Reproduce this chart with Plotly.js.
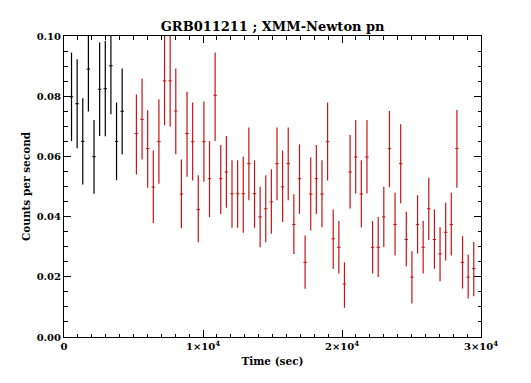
<!DOCTYPE html>
<html>
<head>
<meta charset="utf-8">
<script src="https://cdn.plot.ly/plotly-3.0.1.min.js"></script>
<style>
html,body{margin:0;padding:0;background:#fff;}
#chart{width:531px;height:383px;}
</style>
</head>
<body>
<div id="chart"></div>
<script>
// Black segment (early part of light curve)
var blackTime = [540, 945, 1350, 1755, 2160, 2565, 2970, 3375, 3780, 4185];
var blackRate = [0.0798, 0.0775, 0.0650, 0.0890, 0.0599, 0.0823, 0.0825, 0.0901, 0.0650, 0.0750];
var blackHi   = [0.0945, 0.0923, 0.0793, 0.1040, 0.0721, 0.0978, 0.0984, 0.1060, 0.0779, 0.0892];
var blackLo   = [0.0651, 0.0627, 0.0507, 0.0749, 0.0476, 0.0668, 0.0667, 0.0740, 0.0521, 0.0607];

// Red segment
var redTime = [5210, 5615, 6019, 6424, 6828, 7233, 7637, 8042, 8446, 8851,
               9255, 9660, 10064, 10469, 10873, 11278, 11682, 12087, 12491, 12896,
               13300, 13705, 14109, 14514, 14918, 15323, 15727, 16132, 16536, 16941,
               17345, 17750, 18154, 18559, 18963, 19368, 19772, 20177, 20581, 20986,
               21390, 21795, 22199, 22604, 23008, 23413, 23817, 24222, 24626, 25031,
               25435, 25840, 26244, 26649, 27053, 27458, 27862, 28267, 28671, 29076, 29480];
var redRate = [0.0676, 0.0723, 0.0626, 0.0498, 0.0649, 0.0851, 0.0851, 0.0751, 0.0475, 0.0676,
               0.0649, 0.0424, 0.0649, 0.0526, 0.0803, 0.0526, 0.0548, 0.0476, 0.0476, 0.0476,
               0.0576, 0.0476, 0.0399, 0.0426, 0.0449, 0.0576, 0.0499, 0.0576, 0.0374, 0.0526,
               0.0248, 0.0475, 0.0526, 0.0475, 0.0649, 0.0326, 0.0298, 0.0176, 0.0548, 0.0598,
               0.0475, 0.0598, 0.0298, 0.0298, 0.0399, 0.0626, 0.0374, 0.0576, 0.0324, 0.0199,
               0.0374, 0.0298, 0.0426, 0.0324, 0.0276, 0.0348, 0.0374, 0.0626, 0.0248, 0.0199, 0.0227];
var redHi   = [0.0806, 0.0859, 0.0753, 0.0620, 0.0790, 0.1010, 0.1010, 0.0892, 0.0590, 0.0815,
               0.0779, 0.0537, 0.0782, 0.0651, 0.0945, 0.0638, 0.0668, 0.0587, 0.0587, 0.0599,
               0.0696, 0.0587, 0.0499, 0.0537, 0.0557, 0.0696, 0.0620, 0.0696, 0.0474, 0.0640,
               0.0337, 0.0596, 0.0638, 0.0587, 0.0779, 0.0424, 0.0385, 0.0248, 0.0671, 0.0721,
               0.0587, 0.0721, 0.0385, 0.0399, 0.0499, 0.0751, 0.0479, 0.0707, 0.0416, 0.0285,
               0.0471, 0.0385, 0.0529, 0.0424, 0.0365, 0.0446, 0.0479, 0.0754, 0.0335, 0.0274, 0.0316];
var redLo   = [0.0540, 0.0590, 0.0496, 0.0379, 0.0509, 0.0703, 0.0699, 0.0607, 0.0361, 0.0532,
               0.0520, 0.0315, 0.0516, 0.0398, 0.0651, 0.0409, 0.0429, 0.0363, 0.0363, 0.0346,
               0.0454, 0.0363, 0.0298, 0.0315, 0.0343, 0.0454, 0.0382, 0.0454, 0.0276, 0.0409,
               0.0160, 0.0354, 0.0409, 0.0365, 0.0520, 0.0226, 0.0211, 0.0097, 0.0427, 0.0477,
               0.0365, 0.0477, 0.0211, 0.0199, 0.0298, 0.0498, 0.0271, 0.0444, 0.0235, 0.0111,
               0.0277, 0.0211, 0.0322, 0.0227, 0.0185, 0.0254, 0.0271, 0.0496, 0.0161, 0.0128, 0.0135];

var xTickVals = [0, 10000, 20000, 30000];
var xTickText = ['0', '1\u00d710<sup>4</sup>', '2\u00d710<sup>4</sup>', '3\u00d710<sup>4</sup>'];

function diff(a, b) { return a.map(function (v, i) { return +(v - b[i]).toFixed(5); }); }

function makeTrace(t, r, hi, lo, color) {
  return {
    x: t, y: r, type: 'scatter', mode: 'markers',
    marker: { symbol: 'line-ew', size: 2.5, color: color, line: { color: color, width: 1 } },
    error_y: { type: 'data', symmetric: false, array: diff(hi, r), arrayminus: diff(r, lo),
               color: color, thickness: 1.2, width: 0 },
    showlegend: false, hoverinfo: 'x+y'
  };
}

var fontFam = '"DejaVu Serif", "Liberation Serif", serif';

var data = [
  makeTrace(blackTime, blackRate, blackHi, blackLo, '#000000'),
  makeTrace(redTime, redRate, redHi, redLo, '#c81414')
];

var axisCommon = {
  showline: true, linecolor: '#000', linewidth: 1, mirror: 'allticks',
  ticks: 'inside', ticklen: 7, tickcolor: '#000', tickwidth: 1,
  showgrid: false, zeroline: false,
  tickfont: { family: fontFam, size: 10, color: '#000', weight: 'bold' }
};

var layout = {
  width: 531, height: 383,
  margin: { l: 64, r: 50, t: 36, b: 46 },
  paper_bgcolor: '#fff', plot_bgcolor: '#fff',
  title: { text: 'GRB011211 ; XMM-Newton pn', x: 0.5135, xanchor: 'center', y: 0.93, yanchor: 'middle',
           font: { family: fontFam, size: 13, color: '#000', weight: 'bold' } },
  xaxis: Object.assign({}, axisCommon, {
    range: [0, 30000], tickvals: xTickVals, ticktext: xTickText,
    minor: { dtick: 1000, ticklen: 3.5, ticks: 'inside', tickcolor: '#000', showgrid: false },
    title: { text: 'Time (sec)', standoff: 6, font: { family: fontFam, size: 10.5, color: '#000', weight: 'bold' } }
  }),
  yaxis: Object.assign({}, axisCommon, {
    range: [0, 0.10], dtick: 0.02, tick0: 0, tickformat: '.2f',
    minor: { dtick: 0.005, ticklen: 3.5, ticks: 'inside', tickcolor: '#000', showgrid: false },
    title: { text: 'Counts per second', standoff: 3, font: { family: fontFam, size: 10.5, color: '#000', weight: 'bold' } }
  })
};

Plotly.newPlot('chart', data, layout, { displayModeBar: false, staticPlot: true });
</script>
</body>
</html>
